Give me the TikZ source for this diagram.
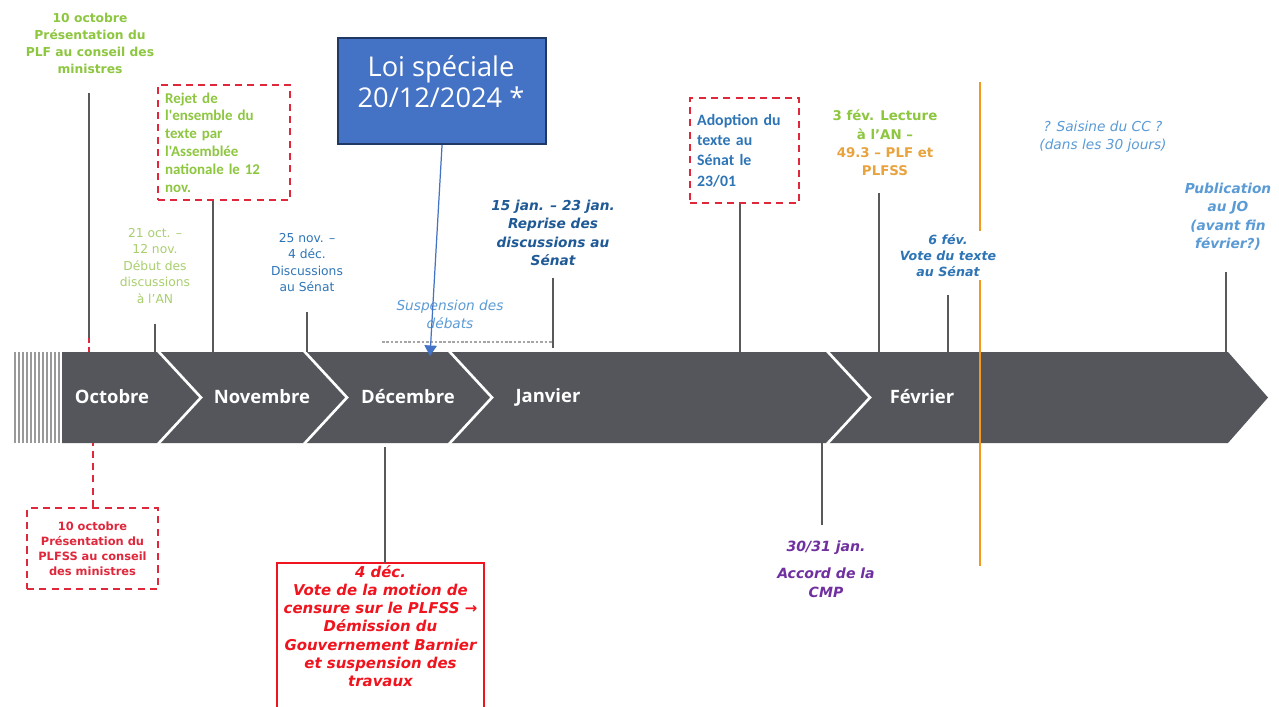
\documentclass[tikz,border=0pt]{standalone}
\usepackage{fontspec}
\setsansfont{DejaVu Sans}
\newfontfamily\carl{Carlito}
\newfontfamily\opens{Open Sans}
\usetikzlibrary{arrows.meta}
\definecolor{bargray}{HTML}{54565B}
\definecolor{lgreen}{HTML}{8DC63F}
\definecolor{pgreen}{HTML}{A9CF6E}
\definecolor{tblue}{HTML}{2E75B6}
\definecolor{dblue}{HTML}{1F5A96}
\definecolor{sblue}{HTML}{5B9BD5}
\definecolor{dred}{HTML}{E0283C}
\definecolor{cred}{HTML}{F0141E}
\definecolor{cmpviolet}{HTML}{7030A0}
\definecolor{orng}{HTML}{E8A33D}
\definecolor{oline}{HTML}{F39A1E}
\definecolor{loifill}{HTML}{4472C4}
\definecolor{loiedge}{HTML}{1F3864}
\tikzset{
  lab/.style={align=center,inner sep=1pt,anchor=north,font=\sffamily\fontsize{7}{9.4}\selectfont},
  blab/.style={lab,font=\sffamily\bfseries\fontsize{7}{9.6}\selectfont},
  bilab/.style={lab,font=\sffamily\bfseries\itshape\fontsize{7.8}{10.4}\selectfont},
  ilab/.style={lab,font=\sffamily\itshape\fontsize{7.8}{10.4}\selectfont},
  dbox/.style={draw=dred,line width=1.3pt,dash pattern=on 4pt off 3pt,align=left,inner xsep=4pt,inner ysep=2pt,anchor=north west},
  stem/.style={draw=black!65,line width=0.9pt},
  month/.style={text=white,font=\opens\bfseries\fontsize{10.5}{12}\selectfont}
}
\begin{document}
\begin{tikzpicture}[x=0.02cm,y=-0.02cm]
\useasboundingbox (0,0) rectangle (1279,707);
\fill[white] (0,0) rectangle (1279,707);
\foreach \x in {15,19,...,59}\draw[black!40,line width=1pt] (\x,352) -- (\x,443);
\fill[bargray] (62,352) -- (1228,352) -- (1268,397.5) -- (1228,443) -- (62,443) -- cycle;
\foreach \x in {158,304,449,827}\draw[white,line width=1.5pt] (\x,351) -- (\x+43,397.5) -- (\x,444);
\node[month] (oct) at (112,397) {Octobre};
\node[month] (nov) at (262,397) {Novembre};
\node[month] (dec) at (408,397) {Décembre};
\node[month] (jan) at (548,397) {Janvier};
\node[month] (fev) at (922,397) {Février};
\foreach \n/\x in {p1/89,p2/155,p3/213,p4/307,p5/553,p6/740,p7/879,p8/948,p9/1226}\coordinate (\n) at (\x,352);
\foreach \n/\x in {q1/93,q2/385,q3/822}\coordinate (\n) at (\x,443);
\draw[oline,line width=1.3pt] (980,82) -- (980,566);
\node[blab,text=lgreen] (plf) at (90,11) {10 octobre\\Présentation du\\PLF au conseil des\\ministres};
\coordinate (p1b) at (89,338);
\draw[stem,shorten <=0.36cm] (plf.south -| p1) -- (p1b);
\draw[dred,line width=1pt,dash pattern=on 3pt off 2pt] (p1b) -- (p1);
\node[dbox,anchor=north,align=center,text=dred,font=\sffamily\bfseries\fontsize{6.5}{8.4}\selectfont,minimum width=2.62cm,minimum height=1.62cm] (plfss) at (92.5,507) {10 octobre\\Présentation du\\PLFSS au conseil\\des ministres};
\draw[dred,line width=1.3pt,dash pattern=on 4pt off 3pt] (plfss.north -| q1) -- (q1);
\node[dbox,text=lgreen,font=\carl\bfseries\fontsize{8.5}{10.2}\selectfont,text width=2.36cm,minimum height=2.3cm] (rejet) at (157,84) {Rejet de\\l'ensemble du\\texte par\\l'Assemblée\\nationale le 12\\nov.};
\draw[stem] (rejet.south -| p3) -- (p3);
\node[lab,text=pgreen] (anan) at (155,226) {21 oct. –\\12 nov.\\Début des\\discussions\\à l'AN};
\draw[stem,shorten <=0.36cm] (anan.south -| p2) -- (p2);
\node[lab,text=tblue] (senat) at (307,231) {25 nov. –\\4 déc.\\Discussions\\au Sénat};
\draw[stem,shorten <=0.36cm] (senat.south -| p4) -- (p4);
\node[draw=loiedge,line width=1.2pt,fill=loifill,minimum width=4.16cm,minimum height=2.12cm,anchor=north west] (loi) at (337,37) {};
\node[text=white,font=\opens\fontsize{15.5}{18}\selectfont,align=center,anchor=north,inner sep=0pt] (loitxt) at (441,55) {Loi spéciale\\20/12/2024 *};
\node[ilab,text=sblue] (susp) at (450,298) {Suspension des\\débats};
\draw[black!35,line width=1pt,dash pattern=on 1.5pt off 1pt] (382,342) -- (552,342);
\coordinate (dtip) at (430,356);
\draw[loifill,line width=0.7pt,-{Triangle[width=7pt,length=6pt]}] (loi.south) -- (dtip);
\node[bilab,text=dblue] (reprise) at (553,198) {15 jan. – 23 jan.\\Reprise des\\discussions au\\Sénat};
\draw[stem,shorten <=0.2cm] (reprise.south -| p5) -- ([yshift=2pt]p5);
\node[dbox,text=tblue,font=\carl\bfseries\fontsize{9}{11.5}\selectfont,text width=1.9cm,minimum height=2.1cm] (adopt) at (689,97) {Adoption du\\texte au\\Sénat le\\23/01};
\draw[stem] (adopt.south -| p6) -- (p6);
\node[blab,text=lgreen,font=\sffamily\bfseries\fontsize{7.6}{10.4}\selectfont] (lect) at (885,108) {3 fév. Lecture\\à l'AN –\\\color{orng}49.3 – PLF et\\\color{orng}PLFSS};
\draw[stem,shorten <=0.3cm] (lect.south -| p7) -- (p7);
\node[bilab,text=tblue,fill=white,font=\sffamily\bfseries\itshape\fontsize{7.2}{8.9}\selectfont,inner sep=2pt] (vote) at (948,231) {6 fév.\\Vote du texte\\au Sénat};
\draw[stem,shorten <=0.3cm] (vote.south -| p8) -- (p8);
\node[ilab,text=sblue] (cc) at (1103,119) {? Saisine du CC ?\\(dans les 30 jours)};
\node[bilab,text=sblue] (jo) at (1228,181) {Publication\\au JO\\(avant fin\\février?)};
\draw[stem,shorten <=0.4cm] (jo.south -| p9) -- (p9);
\node[text=cred,font=\sffamily\bfseries\itshape\fontsize{8.5}{10.4}\selectfont,align=center,minimum width=4.14cm,anchor=north,inner sep=1pt] (cens) at (380.5,563) {4 déc.\\Vote de la motion de\\censure sur le PLFSS →\\Démission du\\Gouvernement Barnier\\et suspension des\\travaux};
\draw[cred,line width=1.3pt] (cens.north west) ++(0,150) -- (cens.north west) -- (cens.north east) -- ++(0,150);
\draw[stem] (q2) ++(0,4) -- (cens.north -| q2);
\node[bilab,text=cmpviolet,font=\sffamily\bfseries\itshape\fontsize{8}{10.4}\selectfont] (cmp) at (826,539) {30/31 jan.\\[5pt]Accord de la\\CMP};
\draw[stem,shorten >=0.28cm] (q3) -- (cmp.north -| q3);
\end{tikzpicture}
\end{document}
